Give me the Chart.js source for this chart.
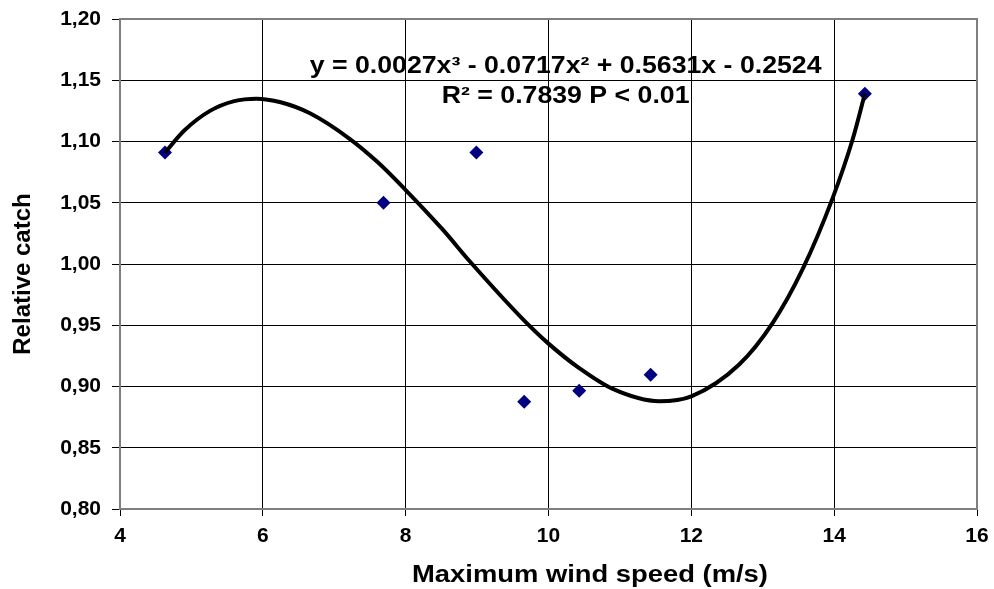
<!DOCTYPE html>
<html>
<head>
<meta charset="utf-8">
<script src="https://cdn.jsdelivr.net/npm/chart.js@4"></script>
<style>
  html, body { margin: 0; padding: 0; background: #fff; }
  #wrap { width: 994px; height: 589px; }
</style>
</head>
<body>
<div id="wrap"><canvas id="windChart" width="994" height="589"></canvas></div>
<script>
const windSpeed = [4.63, 7.69, 8.99, 9.66, 10.43, 11.43, 14.43];
const relCatch = [1.091, 1.050, 1.091, 0.8875, 0.8965, 0.9096, 1.139];

// trend line as traced on the figure
const trendX = [4.63, 4.90, 5.26, 5.60, 5.91, 6.25, 6.66, 7.22, 7.61, 7.99, 8.52, 8.90, 9.64, 10.00, 10.43, 10.90, 11.55, 12.00, 12.67, 13.14, 13.56, 13.98, 14.26, 14.43];
const trendY = [1.091, 1.109, 1.125, 1.133, 1.135, 1.132, 1.123, 1.102, 1.083, 1.061, 1.028, 1.002, 0.955, 0.935, 0.915, 0.898, 0.888, 0.892, 0.918, 0.952, 0.996, 1.054, 1.102, 1.139];

const equationText = 'y = 0.0027x³ - 0.0717x² + 0.5631x - 0.2524';
const r2Text = 'R² = 0.7839 P < 0.01';
const xTitle = 'Maximum wind speed (m/s)';
const yTitle = 'Relative catch';

const fontFam = 'Arial, "Liberation Sans", sans-serif';

// gray frame round the plot, fit text and axis titles
const framePlugin = {
    id: 'frame',
    afterDraw(chart) {
        const { ctx, chartArea } = chart;
        ctx.save();
        ctx.strokeStyle = '#7f7f7f';
        ctx.lineWidth = 2;
        ctx.strokeRect(chartArea.left, chartArea.top, chartArea.right - chartArea.left, chartArea.bottom - chartArea.top);
        ctx.fillStyle = '#000';
        ctx.textAlign = 'center';
        ctx.textBaseline = 'middle';

        // equation
        ctx.save();
        ctx.font = 'bold 23px ' + fontFam;
        const cx = chartArea.left + (chartArea.right - chartArea.left) * 0.52;
        ctx.translate(cx, chartArea.top);
        ctx.scale(1.16, 1);
        ctx.fillText(equationText, 0, 48);
        ctx.fillText(r2Text, 0, 78);
        ctx.restore();

        // x title
        ctx.save();
        ctx.font = 'bold 23px ' + fontFam;
        ctx.translate(590, chartArea.bottom + 67);
        ctx.scale(1.19, 1);
        ctx.fillText(xTitle, 0, 0);
        ctx.restore();

        // y title
        ctx.save();
        ctx.font = 'bold 24px ' + fontFam;
        ctx.translate(23, (chartArea.top + chartArea.bottom) / 2 + 10);
        ctx.rotate(-Math.PI / 2);
        ctx.fillText(yTitle, 0, 0);
        ctx.restore();

        ctx.restore();
    }
};

new Chart('windChart', {
    type: 'scatter',
    data: {
        datasets: [
            {
                type: 'line',
                label: 'trend',
                data: trendX.map((x, i) => ({ x: x, y: trendY[i] })),
                borderColor: '#000',
                borderWidth: 4,
                pointRadius: 0,
                cubicInterpolationMode: 'monotone',
                fill: false,
                order: 0
            },
            {
                label: 'catch',
                data: windSpeed.map((x, i) => ({ x: x, y: relCatch[i] })),
                pointStyle: 'rectRot',
                pointRadius: 7,
                backgroundColor: '#000080',
                borderColor: '#000080',
                borderWidth: 0,
                order: 1
            }
        ]
    },
    options: {
        responsive: false,
        animation: false,
        layout: { padding: { top: 19, right: 17, bottom: 0, left: 0 } },
        plugins: {
            legend: { display: false },
            tooltip: { enabled: false }
        },
        scales: {
            x: {
                type: 'linear',
                min: 4,
                max: 16,
                ticks: {
                    stepSize: 2,
                    color: '#000',
                    padding: 8,
                    font: { family: fontFam, size: 21, weight: 'bold' }
                },
                grid: { color: '#000', lineWidth: 1, tickLength: 7 },
                border: { display: false },
                title: { display: false },
                afterFit(scale) {
                    scale.height = 80;
                    scale.paddingLeft = 0;
                    scale.paddingRight = 0;
                }
            },
            y: {
                min: 0.8,
                max: 1.2,
                ticks: {
                    stepSize: 0.05,
                    color: '#000',
                    padding: 11,
                    font: { family: fontFam, size: 21, weight: 'bold' },
                    callback: (v) => v.toFixed(2).replace('.', ',')
                },
                grid: { color: '#000', lineWidth: 1, tickLength: 8 },
                border: { display: false },
                title: { display: false },
                afterFit(scale) {
                    scale.width = 120;
                    scale.paddingTop = 0;
                    scale.paddingBottom = 0;
                }
            }
        }
    },
    plugins: [framePlugin]
});
</script>
</body>
</html>
